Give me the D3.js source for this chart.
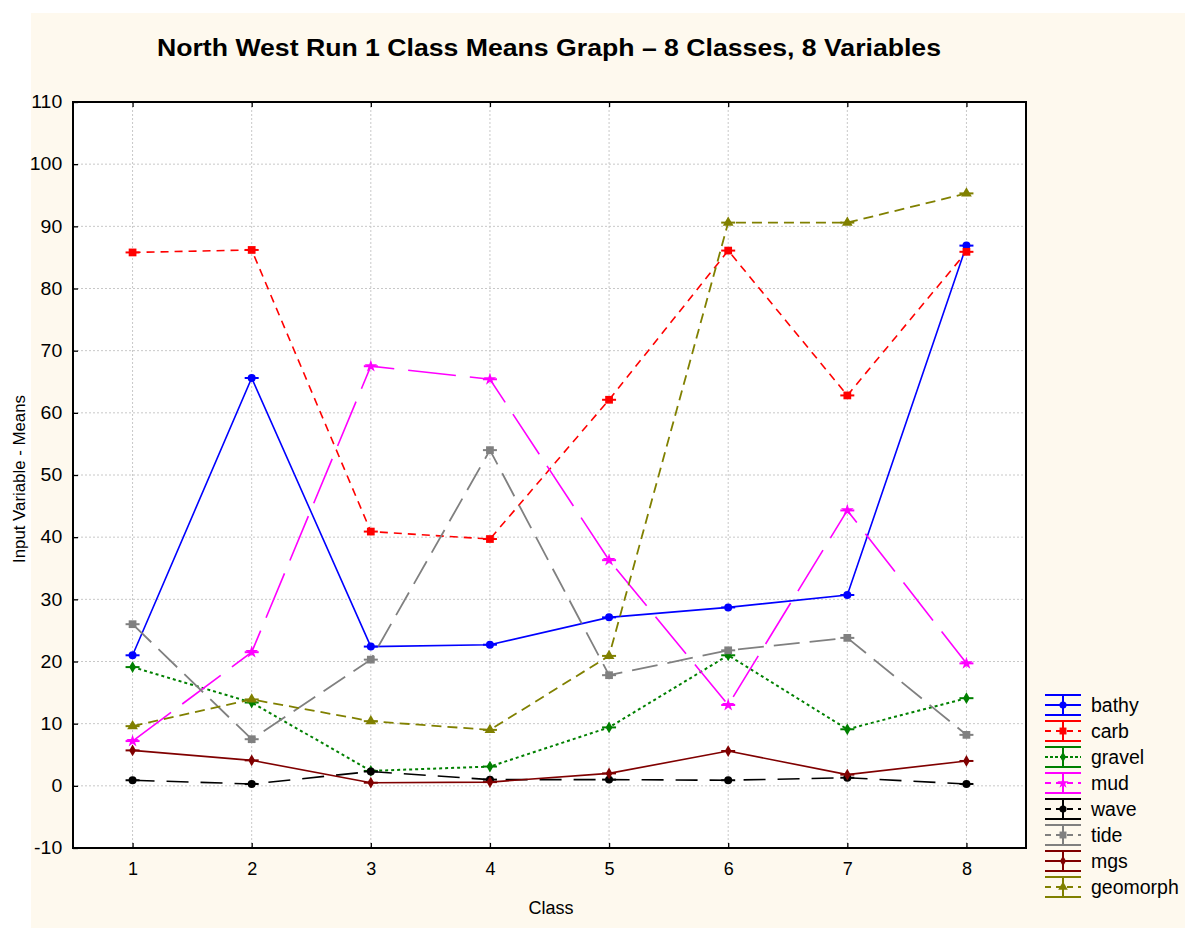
<!DOCTYPE html>
<html>
<head>
<meta charset="utf-8">
<script src="https://cdn.jsdelivr.net/npm/d3@7"></script>
<style>
  body { margin: 0; background: #fff; }
  svg { display: block; font-family: "Liberation Sans", Arial, sans-serif; }
</style>
</head>
<body>
<svg width="1185" height="928"></svg>
<script>
const classes = [1, 2, 3, 4, 5, 6, 7, 8];
const seriesNames = ["bathy", "carb", "gravel", "mud", "wave", "tide", "mgs", "geomorph"];
const bathy    = [21.0, 65.6, 22.4, 22.7, 27.1, 28.7, 30.7, 86.9];
const carb     = [85.8, 86.2, 40.9, 39.7, 62.1, 86.1, 62.8, 85.9];
const gravel   = [19.1, 13.4, 2.4, 3.1, 9.4, 21.0, 9.1, 14.1];
const mud      = [7.2, 21.5, 67.5, 65.4, 36.3, 13.0, 44.3, 19.7];
const wave     = [0.9, 0.3, 2.3, 1.0, 1.0, 0.9, 1.3, 0.3];
const tide     = [26.0, 7.5, 20.3, 54.0, 17.8, 21.8, 23.8, 8.2];
const mgs      = [5.7, 4.1, 0.5, 0.6, 2.0, 5.6, 1.8, 4.0];
const geomorph = [9.6, 13.9, 10.4, 9.0, 20.9, 90.6, 90.6, 95.3];
const yTicks = [-10, 0, 10, 20, 30, 40, 50, 60, 70, 80, 90, 100, 110];

const valuesByName = { bathy, carb, gravel, mud, wave, tide, mgs, geomorph };

// estilo de cada serie
const styles = {
  bathy:    { color: "#0000ff", dash: null,    width: 1.6, symbol: d3.symbolCircle,   size: 50 },
  carb:     { color: "#ff0000", dash: "8,6",   width: 1.6, symbol: d3.symbolSquare,   size: 60 },
  gravel:   { color: "#008000", dash: "3,3",   width: 2,   symbol: d3.symbolDiamond,  size: 40 },
  mud:      { color: "#ff00ff", dash: "48,14", width: 1.6, symbol: d3.symbolStar,     size: 50 },
  wave:     { color: "#000000", dash: "22,12", width: 1.6, symbol: d3.symbolCircle,   size: 50 },
  tide:     { color: "#808080", dash: "26,10", width: 1.8, symbol: d3.symbolSquare,   size: 60 },
  mgs:      { color: "#800000", dash: null,    width: 1.6, symbol: d3.symbolDiamond,  size: 40 },
  geomorph: { color: "#808000", dash: "10,6",  width: 1.8, symbol: d3.symbolTriangle, size: 50 }
};

const svg = d3.select("svg");
const margens = { left: 73, right: 159, top: 102, bottom: 80 };
const width = 1185 - margens.left - margens.right;
const height = 928 - margens.top - margens.bottom;

// fundo creme
svg.append("rect").attr("x", 31).attr("y", 13).attr("width", 1185 - 31).attr("height", 928 - 13).attr("fill", "#fef9ee");

svg.append("text")
  .attr("x", 549).attr("y", 56)
  .attr("text-anchor", "middle")
  .attr("font-size", 23).attr("font-weight", "bold")
  .attr("textLength", 784).attr("lengthAdjust", "spacingAndGlyphs")
  .text("North West Run 1 Class Means Graph \u2013 8 Classes, 8 Variables");

const x = d3.scaleLinear().domain([0.5, 8.5]).range([0, width]);
const y = d3.scaleLinear().domain([-10, 110]).range([height, 0]);

const group = svg.append("g").attr("transform", `translate(${margens.left}, ${margens.top})`);

group.append("rect").attr("width", width).attr("height", height).attr("fill", "#fff");

// grade
group.selectAll(".gy").data(yTicks.slice(1, -1)).enter().append("line")
  .attr("x1", 0).attr("x2", width)
  .attr("y1", d => y(d)).attr("y2", d => y(d))
  .attr("stroke", "#c8c8c8").attr("stroke-dasharray", "2,2");
group.selectAll(".gx").data(classes).enter().append("line")
  .attr("x1", d => x(d)).attr("x2", d => x(d))
  .attr("y1", 0).attr("y2", height)
  .attr("stroke", "#c8c8c8").attr("stroke-dasharray", "2,2");

// eixos
const yAxis = d3.axisLeft(y).tickValues(yTicks).tickFormat(d => String(d)).tickSize(-5).tickPadding(10);
const xAxis = d3.axisBottom(x).tickValues(classes).tickFormat(d => String(d)).tickSize(-5).tickPadding(14);
const xTop = d3.axisTop(x).tickValues(classes).tickSize(-5).tickFormat("");

const gy = group.append("g").call(yAxis);
const gx = group.append("g").attr("transform", `translate(0, ${height})`).call(xAxis);
const gt = group.append("g").call(xTop);
[gy, gx, gt].forEach(g => {
  g.select(".domain").remove();
  g.selectAll("text").attr("fill", "#000").style("font-size", "18px")
    .style("font-family", "Liberation Sans, Arial, sans-serif");
  g.selectAll("line").attr("stroke", "#000").attr("stroke-width", 1.3);
});
gy.selectAll("text").attr("transform", "scale(1.08,1)");

// linhas
const line = d3.line().x((d, i) => x(classes[i])).y(d => y(d));
seriesNames.forEach(name => {
  const s = styles[name];
  const vals = valuesByName[name];
  group.append("path")
    .attr("d", line(vals))
    .attr("fill", "none")
    .attr("stroke", s.color)
    .attr("stroke-width", s.width)
    .attr("stroke-dasharray", s.dash);
  const pts = group.append("g");
  vals.forEach((v, i) => {
    pts.append("line")
      .attr("x1", x(classes[i]) - 7).attr("x2", x(classes[i]) + 7)
      .attr("y1", y(v)).attr("y2", y(v))
      .attr("stroke", s.color).attr("stroke-width", 2);
    pts.append("path")
      .attr("d", d3.symbol(s.symbol, s.size)())
      .attr("transform", `translate(${x(classes[i])}, ${y(v)})`)
      .attr("fill", s.color);
  });
});

group.append("rect").attr("width", width).attr("height", height)
  .attr("fill", "none").attr("stroke", "#000").attr("stroke-width", 2);

// rotulos dos eixos
svg.append("text")
  .attr("x", 551).attr("y", 914)
  .attr("text-anchor", "middle").attr("font-size", 18)
  .text("Class");
svg.append("text")
  .attr("transform", "translate(25, 479) rotate(-90)")
  .attr("text-anchor", "middle").attr("font-size", 16)
  .attr("textLength", 168).attr("lengthAdjust", "spacingAndGlyphs")
  .text("Input Variable - Means");

// legenda
const legend = svg.append("g").attr("transform", "translate(1045, 705)");
seriesNames.forEach((name, i) => {
  const s = styles[name];
  const g = legend.append("g").attr("transform", `translate(0, ${i * 26})`);
  [-10, 10].forEach(dy => g.append("line")
    .attr("x1", 0).attr("x2", 36).attr("y1", dy).attr("y2", dy)
    .attr("stroke", s.color).attr("stroke-width", 2));
  g.append("line").attr("x1", 18).attr("x2", 18).attr("y1", -10).attr("y2", 10)
    .attr("stroke", s.color).attr("stroke-width", 2);
  g.append("line").attr("x1", 0).attr("x2", 36).attr("y1", 0).attr("y2", 0)
    .attr("stroke", s.color).attr("stroke-width", 2)
    .attr("stroke-dasharray", s.dash ? (name === "gravel" ? "3,2" : "6,5") : null);
  g.append("path")
    .attr("d", d3.symbol(s.symbol, s.size * 0.8)())
    .attr("transform", "translate(18, 0)")
    .attr("fill", s.color);
  g.append("text").attr("x", 46).attr("y", 7)
    .attr("font-size", 19.5).text(name);
});
</script>
</body>
</html>
